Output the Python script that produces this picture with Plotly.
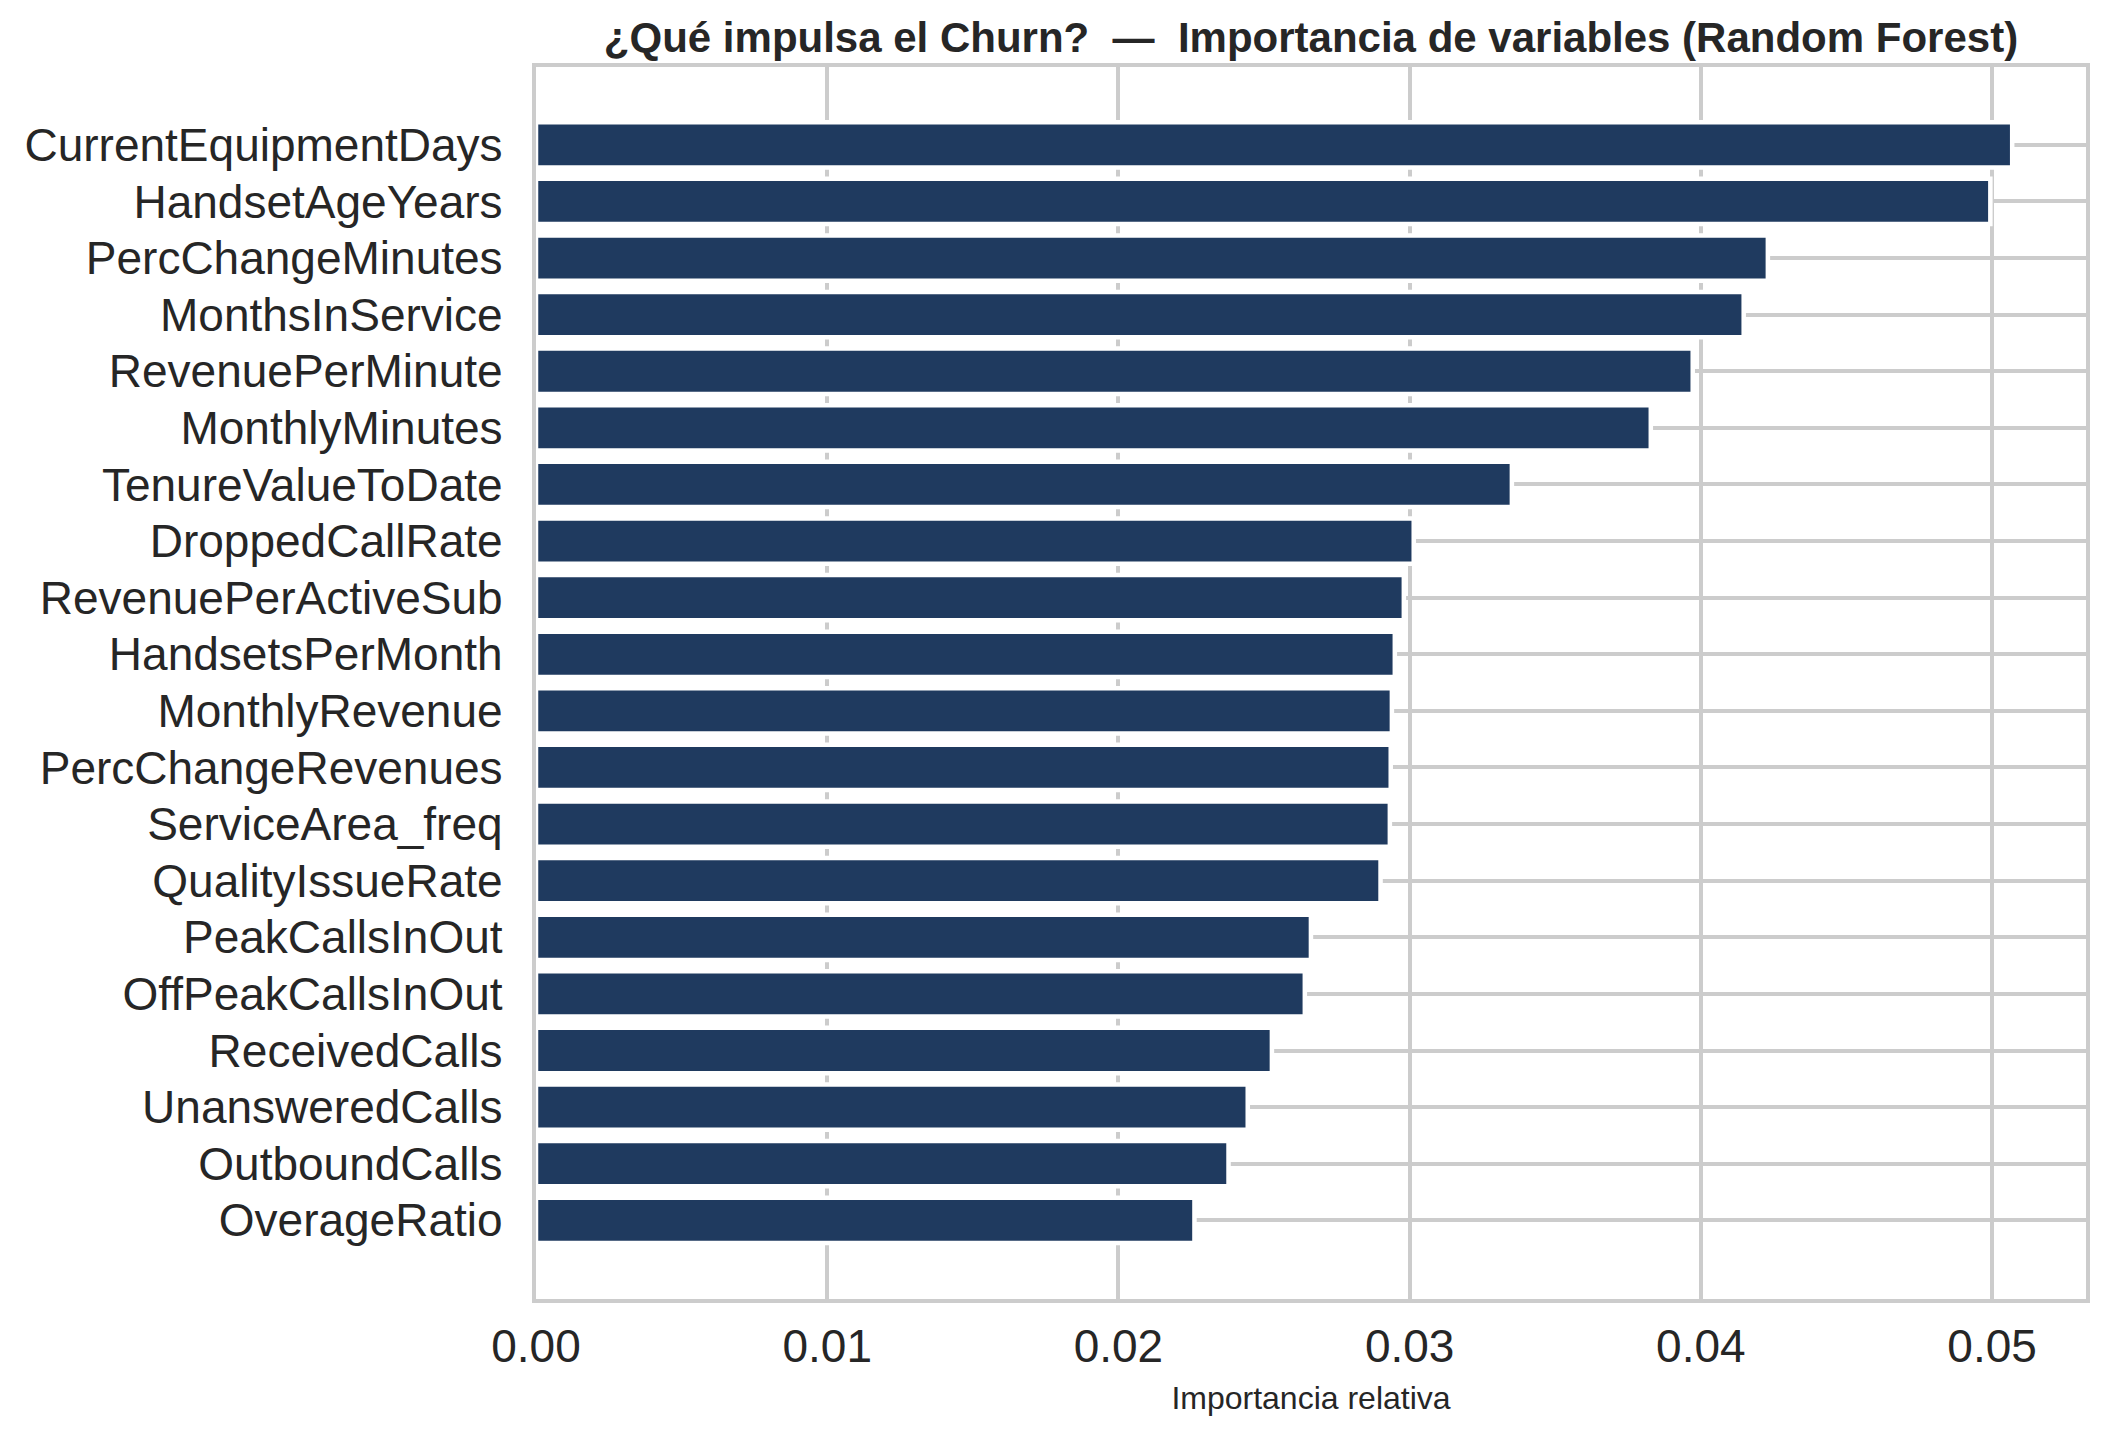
import plotly.graph_objects as go

features = [
    "CurrentEquipmentDays", "HandsetAgeYears", "PercChangeMinutes", "MonthsInService",
    "RevenuePerMinute", "MonthlyMinutes", "TenureValueToDate", "DroppedCallRate",
    "RevenuePerActiveSub", "HandsetsPerMonth", "MonthlyRevenue", "PercChangeRevenues",
    "ServiceArea_freq", "QualityIssueRate", "PeakCallsInOut", "OffPeakCallsInOut",
    "ReceivedCalls", "UnansweredCalls", "OutboundCalls", "OverageRatio",
]
importance = [
    0.05069, 0.04994, 0.04230, 0.04147, 0.03972, 0.03828, 0.03351, 0.03014,
    0.02980, 0.02949, 0.02939, 0.02935, 0.02932, 0.02900, 0.02661, 0.02640,
    0.02527, 0.02444, 0.02378, 0.02261,
]
x_ticks = [0.0, 0.01, 0.02, 0.03, 0.04, 0.05]
x_tick_labels = ["0.00", "0.01", "0.02", "0.03", "0.04", "0.05"]

title_text = "<b>¿Qué impulsa el Churn?\u00a0 —\u00a0 Importancia de variables (Random Forest)</b>"
x_title = "Importancia relativa"

BAR = "#1f3a5f"
GRID = "#cccccc"
TXT = "#262626"
FONT = "Liberation Sans, Arial, sans-serif"

fig = go.Figure(
    go.Bar(
        x=importance,
        y=features,
        orientation="h",
        width=0.8,
        marker=dict(color=BAR, line=dict(color="white", width=4.5)),
    )
)

n = len(features)
fig.update_layout(
    width=2105,
    height=1439,
    paper_bgcolor="white",
    plot_bgcolor="white",
    margin=dict(l=536, r=19, t=67, b=140),
    showlegend=False,
    font=dict(family=FONT, color=TXT),
    title=dict(
        text=title_text,
        font=dict(family=FONT, size=42, color=TXT),
        x=0.5, xref="paper", xanchor="center",
        y=1 - 37 / 1439, yref="container", yanchor="middle",
    ),
)
fig.update_xaxes(
    range=[0, max(importance) * 1.05],
    tickvals=x_ticks,
    ticktext=x_tick_labels,
    tickfont=dict(size=46, color=TXT, family=FONT),
    showgrid=True, gridcolor=GRID, gridwidth=3.5,
    zeroline=False,
    showline=True, mirror=True, linecolor=GRID, linewidth=4.4,
    ticks="", ticklabelstandoff=4,
    title=dict(text=x_title, font=dict(size=32, color=TXT, family=FONT), standoff=16),
)
fig.update_yaxes(
    categoryorder="array", categoryarray=features,
    range=[n - 1 + 1.39, -1.375],
    tickfont=dict(size=46, color=TXT, family=FONT),
    showgrid=True, gridcolor=GRID, gridwidth=3.5,
    zeroline=False,
    showline=True, mirror=True, linecolor=GRID, linewidth=4.4,
    ticks="", ticklabelstandoff=20,
)

fig.write_html("out.html")
